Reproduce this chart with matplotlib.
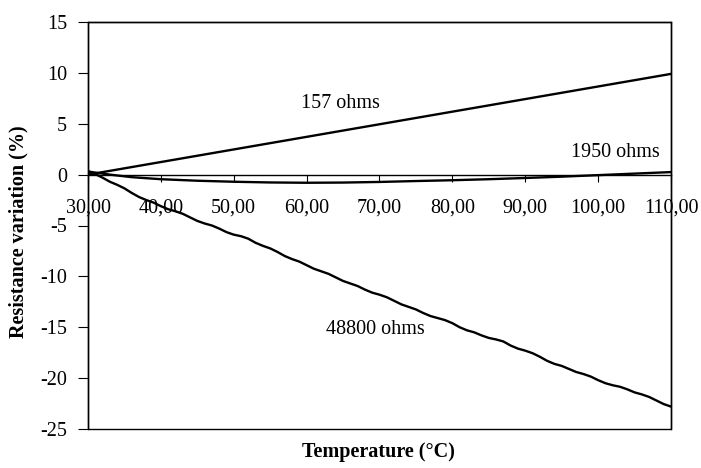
import matplotlib
matplotlib.use("Agg")
import matplotlib.pyplot as plt
from matplotlib.patches import Rectangle

# ---- data ----
temp_157 = [30, 110]
var_157 = [0.0, 9.9]

temp_1950 = [30, 33, 36, 40, 45, 50, 55, 60, 65, 70, 75, 80, 85, 90, 95, 100, 105, 110]
var_1950 = [0.3, 0.0, -0.25, -0.45, -0.6, -0.7, -0.77, -0.8, -0.78, -0.72, -0.63, -0.55, -0.45,
            -0.33, -0.2, -0.05, 0.1, 0.25]

temp_48800 = list(range(30, 111, 1))
var_48800 = [0.35, 0.05, -0.3, -0.7, -1.0, -1.35, -1.8, -2.2, -2.5, -2.75,
             -3.1, -3.4, -3.6, -3.85, -4.2, -4.55, -4.8, -5.0, -5.3, -5.65,
             -5.9, -6.05, -6.3, -6.7, -7.0, -7.25, -7.6, -8.0, -8.3, -8.55,
             -8.9, -9.25, -9.5, -9.75, -10.1, -10.45, -10.7, -10.95, -11.3, -11.6,
             -11.8, -12.05, -12.4, -12.75, -13.0, -13.25, -13.6, -13.9, -14.1, -14.3,
             -14.6, -15.0, -15.3, -15.5, -15.8, -16.05, -16.2, -16.4, -16.8, -17.1,
             -17.3, -17.55, -17.9, -18.3, -18.6, -18.8, -19.1, -19.4, -19.6, -19.85,
             -20.2, -20.5, -20.7, -20.85, -21.1, -21.4, -21.6, -21.85, -22.2, -22.55,
             -22.8]

xticks = [30, 40, 50, 60, 70, 80, 90, 100, 110]
xtick_labels = ["30,00", "40,00", "50,00", "60,00", "70,00", "80,00", "90,00", "100,00", "110,00"]
yticks = [15, 10, 5, 0, -5, -10, -15, -20, -25]

labels = ["157 ohms", "1950 ohms", "48800 ohms"]
label_pos = [(64.7, 7.0), (102.3, 2.2), (69.4, -15.2)]

plt.rcParams['font.family'] = ['Liberation Serif', 'DejaVu Serif']
plt.rcParams['axes.unicode_minus'] = False

fig = plt.figure(figsize=(7.01, 4.68), dpi=100)
ax = fig.add_axes([88/701, 1 - 429/468, (671-88)/701, (429-22)/468])

ax.plot(temp_157, var_157, color='black', lw=1.7)
ax.plot(temp_1950, var_1950, color='black', lw=1.7)
ax.plot(temp_48800, var_48800, color='black', lw=1.7)

for lab, (x, y) in zip(labels, label_pos):
    ax.text(x, y, lab, fontsize=14.5, ha='center', va='center')

ax.set_xlim(30, 110)
ax.set_ylim(-25, 15)

ax.spines['bottom'].set_position(('data', 0))
for s in ['top', 'right', 'left', 'bottom']:
    ax.spines[s].set_linewidth(1.0)
    ax.spines[s].set_color('black')
ax.add_patch(Rectangle((0, 0), 1, 1, transform=ax.transAxes, fill=False,
                       edgecolor='black', lw=1.0, clip_on=False))

ax.set_xticks(xticks)
ax.set_xticklabels(xtick_labels)
ax.set_yticks(yticks)
ax.tick_params(axis='x', direction='out', length=5, pad=12, labelsize=14.5)
ax.tick_params(axis='y', direction='out', length=7, pad=8, labelsize=14.5)

fig.text(18/701, 1 - 232/468, "Resistance variation (%)", rotation=90, fontsize=14.5,
         fontweight='bold', ha='center', va='center')
fig.text(378/701, 1 - 452/468, "Temperature (°C)", fontsize=14.5, fontweight='bold',
         ha='center', va='center')

fig.savefig("out.png", dpi=100)
